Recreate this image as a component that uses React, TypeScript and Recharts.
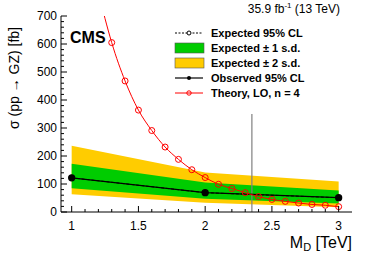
import React from 'react';
import { ComposedChart, Area, Line, XAxis, YAxis, ReferenceLine, Legend, Customized } from 'recharts';

const FONT = '"Liberation Sans", Arial, Helvetica, sans-serif';
const GREEN = '#00cc00';
const YELLOW = '#ffcc00';
const RED = '#ff0000';

// limits at the simulated mass points
const massPoints = [1, 2, 3];
const observed = [122, 69, 51];
const expected = [122, 69, 51];
const oneSigmaLow = [85, 47, 30];
const oneSigmaHigh = [172, 105, 77];
const twoSigmaLow = [63, 33, 17];
const twoSigmaHigh = [237, 141, 109];

// LO theory, n = 4
const theoryMass = [1.0, 1.1, 1.2, 1.3, 1.4, 1.5, 1.6, 1.7, 1.8, 1.9, 2.0, 2.1, 2.2, 2.3, 2.4, 2.5, 2.6, 2.7, 2.8, 2.9, 3.0];
const theoryXsec = [1370, 1040, 790, 605, 468, 364, 291, 232, 188, 151, 123, 99, 84, 69, 55, 45, 38, 32, 27, 24, 19];

const exclusionMass = 2.35;

const xTicks = [1.0, 1.1, 1.2, 1.3, 1.4, 1.5, 1.6, 1.7, 1.8, 1.9, 2.0, 2.1, 2.2, 2.3, 2.4, 2.5, 2.6, 2.7, 2.8, 2.9, 3.0];
const yTicks = [0, 20, 40, 60, 80, 100, 120, 140, 160, 180, 200, 220, 240, 260, 280, 300, 320, 340, 360, 380, 400, 420, 440, 460, 480, 500, 520, 540, 560, 580, 600, 620, 640, 660, 680, 700];

const legendItems = [
  { label: 'Expected 95% CL', kind: 'dashed' },
  { label: 'Expected \u00b1 1 s.d.', kind: 'green' },
  { label: 'Expected \u00b1 2 s.d.', kind: 'yellow' },
  { label: 'Observed 95% CL', kind: 'observed' },
  { label: 'Theory, LO, n = 4', kind: 'theory' },
];

const rows = theoryMass.map((m, i) => {
  const k = massPoints.indexOf(m);
  const has = k >= 0;
  return {
    m,
    theory: theoryXsec[i],
    obs: has ? observed[k] : null,
    exp: has ? expected[k] : null,
    band1: has ? [oneSigmaLow[k], oneSigmaHigh[k]] : null,
    band2: has ? [twoSigmaLow[k], twoSigmaHigh[k]] : null,
  };
});

const isMajorX = (v: number) => Math.abs(v * 2 - Math.round(v * 2)) < 1e-6;
const isMajorY = (v: number) => v % 100 === 0;
const fmtX = (v: number) => String(Math.round(v * 10) / 10);

const BottomTick = (props: any) => {
  const { x, y, payload } = props;
  const major = isMajorX(payload.value);
  return (
    <g>
      <line x1={x} x2={x} y1={y} y2={y - (major ? 6 : 3)} stroke="#000" />
      {major && (
        <text x={x} y={y + 18} textAnchor="middle" fontSize={12} fontFamily={FONT} fill="#000">
          {fmtX(payload.value)}
        </text>
      )}
    </g>
  );
};

const TopTick = (props: any) => {
  const { x, y, payload } = props;
  const major = isMajorX(payload.value);
  return <line x1={x} x2={x} y1={y} y2={y + (major ? 6 : 3)} stroke="#000" />;
};

const LeftTick = (props: any) => {
  const { x, y, payload } = props;
  const major = isMajorY(payload.value);
  return (
    <g>
      <line x1={x} x2={x + (major ? 6 : 3)} y1={y} y2={y} stroke="#000" />
      {major && (
        <text x={x - 4} y={y + 4} textAnchor="end" fontSize={12} fontFamily={FONT} fill="#000">
          {payload.value}
        </text>
      )}
    </g>
  );
};

const RightTick = (props: any) => {
  const { x, y, payload } = props;
  const major = isMajorY(payload.value);
  return <line x1={x} x2={x - (major ? 6 : 3)} y1={y} y2={y} stroke="#000" />;
};

const renderLegend = () => (
  <svg width={150} height={80} style={{ display: 'block' }}>
    {legendItems.map((it, i) => {
      const cy = 9 + i * 15;
      let sym: React.ReactNode = null;
      if (it.kind === 'dashed') {
        sym = (
          <g>
            <line x1={5} x2={33} y1={cy} y2={cy} stroke="#000" strokeDasharray="2 1.5" />
            <circle cx={19} cy={cy} r={2} fill="#fff" stroke="#000" />
          </g>
        );
      } else if (it.kind === 'green' || it.kind === 'yellow') {
        sym = <rect x={5} y={cy - 5} width={29} height={10} fill={it.kind === 'green' ? GREEN : YELLOW} stroke="#555" strokeWidth={0.6} />;
      } else if (it.kind === 'observed') {
        sym = (
          <g>
            <line x1={5} x2={33} y1={cy} y2={cy} stroke="#000" strokeWidth={1.2} />
            <circle cx={19} cy={cy} r={2} fill="#000" />
          </g>
        );
      } else {
        sym = (
          <g>
            <line x1={5} x2={33} y1={cy} y2={cy} stroke={RED} />
            <circle cx={19} cy={cy} r={2.2} fill="none" stroke={RED} />
          </g>
        );
      }
      return (
        <g key={it.label}>
          {sym}
          <text x={41} y={cy + 4} fontSize={11} fontWeight="bold" fontFamily={FONT} fill="#000">
            {it.label}
          </text>
        </g>
      );
    })}
  </svg>
);

const Annotations = () => (
  <g fontFamily={FONT} fill="#000">
    <text x={70} y={43} fontSize={16} fontWeight="bold">CMS</text>
    <text x={340} y={13} fontSize={12} textAnchor="end">
      35.9 fb<tspan dy={-5} fontSize={8}>-1</tspan>
      <tspan dy={5}> (13 TeV)</tspan>
    </text>
    <text x={352} y={248} fontSize={16} textAnchor="end">
      M<tspan dy={3} fontSize={11}>D</tspan>
      <tspan dy={-3}> [TeV]</tspan>
    </text>
    <text transform="rotate(-90)" x={-27} y={19} fontSize={14} textAnchor="end">
      {'\u03c3 (pp \u2192 GZ) [fb]'}
    </text>
  </g>
);

export default function App() {
  return (
    <div style={{ position: 'absolute', left: 0, top: 0, background: '#fff' }}>
      <ComposedChart width={374} height={253} data={rows} margin={{ top: 16, right: 22, bottom: 16, left: 21 }}>
        <XAxis
          dataKey="m"
          type="number"
          domain={[0.92, 3.1]}
          allowDataOverflow
          ticks={xTicks}
          interval={0}
          tickSize={0}
          tickMargin={0}
          height={25}
          axisLine={{ stroke: '#000' }}
          tickLine={false}
          tick={<BottomTick />}
        />
        <XAxis
          xAxisId="top"
          orientation="top"
          type="number"
          domain={[0.92, 3.1]}
          allowDataOverflow
          ticks={xTicks}
          interval={0}
          tickSize={0}
          tickMargin={0}
          height={0}
          axisLine={{ stroke: '#000' }}
          tickLine={false}
          tick={<TopTick />}
        />
        <YAxis
          type="number"
          domain={[0, 700]}
          allowDataOverflow
          ticks={yTicks}
          interval={0}
          tickSize={0}
          tickMargin={0}
          width={40}
          axisLine={{ stroke: '#000' }}
          tickLine={false}
          tick={<LeftTick />}
        />
        <YAxis
          yAxisId="right"
          orientation="right"
          type="number"
          domain={[0, 700]}
          allowDataOverflow
          ticks={yTicks}
          interval={0}
          tickSize={0}
          tickMargin={0}
          width={0}
          axisLine={{ stroke: '#000' }}
          tickLine={false}
          tick={<RightTick />}
        />
        <Area type="linear" dataKey="band2" fill={YELLOW} fillOpacity={1} stroke="none" connectNulls isAnimationActive={false} />
        <Area type="linear" dataKey="band1" fill={GREEN} fillOpacity={1} stroke="none" connectNulls isAnimationActive={false} />
        <ReferenceLine segment={[{ x: exclusionMass, y: 0 }, { x: exclusionMass, y: 350 }]} stroke="#808080" strokeWidth={1.2} />
        <Line type="linear" dataKey="exp" stroke="#000" strokeDasharray="3 2" dot={false} connectNulls isAnimationActive={false} />
        <Line type="linear" dataKey="obs" stroke="#000" strokeWidth={1.3} dot={{ r: 3, fill: '#000', stroke: '#000' }} connectNulls isAnimationActive={false} />
        <Line type="monotone" dataKey="theory" stroke={RED} strokeWidth={1} dot={{ r: 3, fill: 'none', stroke: RED, strokeWidth: 1 }} isAnimationActive={false} />
        <Legend
          layout="vertical"
          align="center"
          verticalAlign="middle"
          content={renderLegend}
          wrapperStyle={{ position: 'absolute', left: 170, top: 24, width: 150, height: 80 }}
        />
        <Customized component={Annotations} />
      </ComposedChart>
    </div>
  );
}
